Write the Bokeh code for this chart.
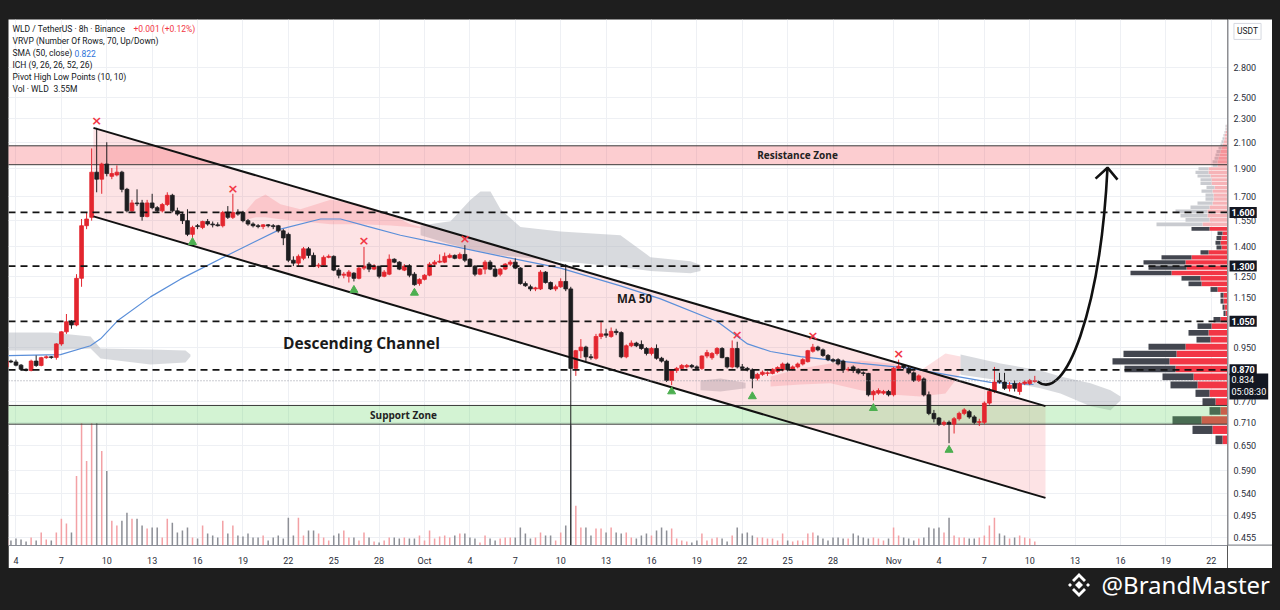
import numpy as np
import pandas as pd
from bokeh.plotting import figure
from bokeh.models import Range1d, FixedTicker, Span, Label, Div, LinearScale
from bokeh.layouts import column, row
from bokeh.core.properties import value
from bokeh.embed import file_html
from bokeh.resources import INLINE

# ---------------------------------------------------------------- data
ORIGIN = pd.Timestamp("2025-09-01")          # day 0 of the x axis
FIRST_CANDLE = "2025-09-03 08:00"            # 8h candles, Binance WLD/USDT

opens = [
    .880, .900, .897, .886, .872, .868, .900, .885, .912, .915,
    .913, .962, 1.008, 1.048, 1.035, 1.24, 1.52, 1.57, 1.87, 1.82,
    1.93, 1.84, 1.85, 1.87, 1.75, 1.61, 1.66, 1.66, 1.575, 1.66,
    1.63, 1.61, 1.65, 1.71, 1.61, 1.59, 1.55, 1.47, 1.52, 1.51,
    1.545, 1.53, 1.525, 1.52, 1.60, 1.57, 1.60, 1.60, 1.55, 1.53,
    1.52, 1.515, 1.525, 1.52, 1.52, 1.49, 1.47, 1.33, 1.315, 1.34,
    1.39, 1.355, 1.30, 1.305, 1.345, 1.35, 1.28, 1.255, 1.25, 1.265,
    1.24, 1.29, 1.31, 1.285, 1.30, 1.25, 1.26, 1.335, 1.32, 1.28,
    1.30, 1.26, 1.215, 1.235, 1.255, 1.31, 1.32, 1.32, 1.345, 1.355,
    1.34, 1.36, 1.335, 1.30, 1.26, 1.285, 1.32, 1.285, 1.26, 1.285,
    1.31, 1.32, 1.29, 1.215, 1.20, 1.19, 1.19, 1.27, 1.22, 1.19,
    1.20, 1.225, 1.19, .875, .937, .95, .915, .91, .99, 1.00,
    .99, 1.01, 1.005, .915, .955, .965, .96, .945, .927, .945,
    .91, .90, .835, .868, .875, .88, .885, .88, .875, .918,
    .912, .927, .945, .912, .88, .945, .88, .875, .87, .842,
    .855, .858, .858, .865, .87, .89, .872, .88, .89, .898,
    .935, .95, .94, .92, .905, .905, .90, .87, .88, .872,
    .86, .858, .79, .795, .795, .80, .79, .875, .885, .875,
    .86, .835, .84, .79, .735, .722, .705, .71, .705, .72,
    .735, .74, .725, .71, .71, .765, .80, .835, .83, .81,
    .825, .80, .825, .825, .832]
highs = [
    .905, .905, .905, .890, .875, .905, .920, .915, .920, .918,
    .965, 1.01, 1.08, 1.055, 1.26, 1.56, 1.60, 2.05, 2.22, 1.94,
    2.10, 1.90, 1.92, 1.88, 1.76, 1.68, 1.75, 1.68, 1.68, 1.72,
    1.64, 1.66, 1.73, 1.72, 1.63, 1.60, 1.62, 1.52, 1.53, 1.55,
    1.56, 1.545, 1.54, 1.61, 1.64, 1.72, 1.62, 1.61, 1.56, 1.54,
    1.53, 1.53, 1.53, 1.53, 1.525, 1.50, 1.48, 1.35, 1.36, 1.40,
    1.40, 1.37, 1.315, 1.355, 1.36, 1.355, 1.29, 1.27, 1.28, 1.27,
    1.30, 1.40, 1.32, 1.31, 1.30, 1.28, 1.36, 1.34, 1.325, 1.31,
    1.31, 1.27, 1.24, 1.26, 1.32, 1.33, 1.36, 1.37, 1.365, 1.36,
    1.37, 1.41, 1.34, 1.305, 1.29, 1.33, 1.33, 1.30, 1.29, 1.315,
    1.33, 1.34, 1.295, 1.225, 1.21, 1.20, 1.28, 1.275, 1.225, 1.21,
    1.24, 1.31, 1.20, .94, .98, .955, .925, 1.00, 1.05, 1.02,
    1.025, 1.02, 1.01, .96, .975, .97, .975, .95, .95, .96,
    .915, .905, .87, .88, .89, .89, .89, .885, .92, .94,
    .932, .95, .95, .915, .975, .97, .89, .88, .875, .86,
    .868, .865, .875, .882, .895, .895, .885, .895, .91, .94,
    .962, .955, .945, .925, .91, .91, .905, .88, .885, .875,
    .865, .86, .805, .81, .805, .805, .88, .905, .89, .88,
    .865, .855, .845, .80, .745, .725, .715, .715, .725, .74,
    .75, .745, .73, .72, .77, .81, .88, .86, .86, .83,
    .835, .83, .835, .84, .85]
lows = [
    .875, .893, .882, .868, .865, .865, .880, .882, .908, .908,
    .905, .955, 1.00, 1.02, 1.03, 1.20, 1.50, 1.55, 1.73, 1.72,
    1.84, 1.82, 1.84, 1.73, 1.60, 1.60, 1.64, 1.55, 1.57, 1.62,
    1.60, 1.60, 1.64, 1.60, 1.58, 1.53, 1.46, 1.45, 1.50, 1.50,
    1.52, 1.51, 1.515, 1.51, 1.56, 1.56, 1.58, 1.54, 1.52, 1.51,
    1.505, 1.50, 1.51, 1.50, 1.48, 1.41, 1.32, 1.30, 1.30, 1.33,
    1.34, 1.295, 1.29, 1.30, 1.34, 1.275, 1.24, 1.24, 1.22, 1.225,
    1.235, 1.28, 1.27, 1.28, 1.24, 1.245, 1.255, 1.315, 1.28, 1.275,
    1.245, 1.205, 1.205, 1.23, 1.25, 1.30, 1.315, 1.315, 1.34, 1.335,
    1.335, 1.32, 1.295, 1.25, 1.255, 1.26, 1.28, 1.245, 1.25, 1.28,
    1.30, 1.285, 1.21, 1.20, 1.18, 1.18, 1.185, 1.215, 1.185, 1.18,
    1.195, 1.18, .40, .85, .91, .90, .905, .905, .98, .985,
    .985, .995, .91, .91, .95, .95, .94, .92, .92, .905,
    .895, .83, .82, .86, .87, .875, .875, .87, .87, .91,
    .905, .92, .91, .875, .875, .875, .87, .865, .81, .835,
    .85, .85, .855, .86, .865, .865, .868, .875, .885, .895,
    .93, .935, .915, .90, .895, .885, .86, .865, .86, .855,
    .85, .785, .773, .79, .79, .785, .785, .87, .872, .855,
    .83, .83, .785, .73, .71, .70, .70, .655, .68, .715,
    .73, .72, .705, .70, .705, .76, .795, .825, .805, .80,
    .80, .79, .82, .82, .828]
closes = [
    .900, .897, .886, .872, .868, .900, .885, .912, .915, .913,
    .962, 1.008, 1.048, 1.035, 1.24, 1.52, 1.56, 1.87, 1.82, 1.93,
    1.86, 1.86, 1.87, 1.75, 1.61, 1.66, 1.655, 1.575, 1.66, 1.63,
    1.61, 1.65, 1.71, 1.61, 1.59, 1.55, 1.47, 1.51, 1.515, 1.545,
    1.53, 1.525, 1.52, 1.60, 1.57, 1.60, 1.59, 1.55, 1.53, 1.52,
    1.515, 1.525, 1.52, 1.515, 1.49, 1.45, 1.33, 1.315, 1.35, 1.39,
    1.355, 1.30, 1.305, 1.345, 1.35, 1.28, 1.255, 1.26, 1.27, 1.24,
    1.29, 1.30, 1.285, 1.30, 1.25, 1.27, 1.335, 1.32, 1.285, 1.30,
    1.255, 1.21, 1.235, 1.255, 1.31, 1.32, 1.325, 1.35, 1.355, 1.34,
    1.36, 1.33, 1.30, 1.26, 1.285, 1.32, 1.285, 1.25, 1.285, 1.31,
    1.32, 1.29, 1.215, 1.205, 1.19, 1.195, 1.27, 1.22, 1.19, 1.20,
    1.225, 1.19, .875, .937, .95, .915, .912, .99, 1.00, .995,
    1.01, 1.005, .915, .955, .965, .955, .945, .927, .945, .91,
    .90, .835, .868, .875, .885, .885, .88, .875, .918, .93,
    .927, .945, .912, .88, .945, .88, .875, .87, .842, .855,
    .862, .86, .872, .878, .89, .87, .88, .89, .905, .937,
    .95, .94, .92, .905, .90, .89, .87, .872, .868, .86,
    .858, .79, .80, .803, .80, .79, .875, .882, .878, .86,
    .835, .85, .79, .735, .72, .705, .71, .705, .72, .735,
    .745, .725, .71, .712, .765, .80, .83, .83, .81, .82,
    .81, .825, .83, .835, .834]
volumes = [  # volume per candle (M)
    6, 5, 7, 6, 4, 8, 5, 13, 6, 5,
    13, 27, 22, 13, 70, 123, 85, 123, 123, 95,
    75, 25, 20, 25, 33, 27, 27, 20, 17, 18,
    18, 8, 27, 23, 13, 15, 18, 8, 7, 20,
    12, 10, 8, 25, 12, 20, 10, 9, 12, 8,
    8, 10, 5, 8, 10, 7, 28, 10, 28, 10,
    15, 15, 12, 8, 5, 10, 12, 15, 8, 8,
    5, 13, 8, 4, 3, 5, 8, 8, 7, 8,
    7, 7, 10, 5, 15, 7, 9, 10, 8, 10,
    12, 12, 8, 7, 3, 10, 7, 5, 7, 8,
    8, 8, 18, 12, 7, 8, 13, 10, 10, 5,
    13, 20, 121, 40, 18, 18, 10, 17, 17, 13,
    18, 13, 12, 13, 8, 7, 10, 12, 10, 15,
    18, 15, 17, 7, 5, 4, 3, 5, 12, 5,
    7, 8, 7, 4, 10, 18, 12, 13, 10, 8,
    8, 7, 7, 5, 12, 5, 4, 5, 5, 12,
    13, 10, 7, 5, 8, 8, 7, 7, 12, 10,
    8, 7, 8, 7, 5, 7, 18, 10, 8, 7,
    5, 7, 8, 18, 17, 18, 13, 28, 10, 8,
    8, 7, 7, 8, 10, 20, 28, 12, 10, 7,
    8, 10, 8, 7, 4]

# SMA(50) (day, value)
ma_days = [2.50, 5.94, 7.92, 8.59, 9.71, 11.89, 13.87, 17.38, 20.48, 23.13, 24.45, 26.23, 28.41,
           30.59, 35.02, 38.99, 42.95, 45.60, 49.37, 51.35, 52.87, 54.85, 58.82, 62.12, 67.41, 70.25]
ma_vals = [0.919, 0.923, 0.955, 0.981, 1.052, 1.154, 1.236, 1.372, 1.50, 1.56, 1.56, 1.516, 1.465,
           1.426, 1.351, 1.29, 1.204, 1.145, 1.048, 0.962, 0.934, 0.916, 0.892, 0.875, 0.829, 0.822]

# Ichimoku cloud pieces (day, upper, lower)
cloud1_days = [2.50, 5.28, 7.93, 8.59, 11.89, 14.20, 14.53]
cloud1_top = [1.005, 1.005, 0.990, 0.945, 0.941, 0.938, 0.923]
cloud1_bot = [0.938, 0.938, 0.945, 0.909, 0.888, 0.895, 0.916]
cloud2_days = [17.84, 18.83, 19.49, 20.48, 21.80, 23.79, 25.77, 27.75, 29.07, 29.74]
cloud2_top = [1.570, 1.680, 1.716, 1.651, 1.620, 1.680, 1.651, 1.589, 1.529, 1.512]
cloud2_bot = [1.546, 1.570, 1.570, 1.558, 1.546, 1.529, 1.529, 1.522, 1.512, 1.505]
cloud3_days = [29.74, 31.72, 33.04, 33.70, 34.36, 35.02, 36.34, 38.99, 42.95, 44.93, 47.58, 48.24]
cloud3_top = [1.522, 1.546, 1.680, 1.735, 1.735, 1.620, 1.512, 1.487, 1.465, 1.346, 1.325, 1.305]
cloud3_bot = [1.465, 1.415, 1.388, 1.377, 1.367, 1.356, 1.346, 1.325, 1.295, 1.275, 1.265, 1.275]
cloud4_days = [48.24, 49.56, 51.22]
cloud4_top = [0.835, 0.841, 0.828]
cloud4_bot = [0.804, 0.800, 0.810]
cloud5_days = [52.87, 54.85, 56.83, 58.82, 60.80, 62.78, 64.43, 65.43]
cloud5_top = [0.848, 0.875, 0.892, 0.902, 0.892, 0.868, 0.927, 0.916]
cloud5_bot = [0.816, 0.822, 0.826, 0.804, 0.791, 0.785, 0.794, 0.858]
cloud6_days = [65.43, 68.07, 70.71, 72.03, 74.02, 75.34, 76.00]
cloud6_top = [0.923, 0.892, 0.868, 0.848, 0.826, 0.804, 0.785]
cloud6_bot = [0.854, 0.835, 0.810, 0.794, 0.756, 0.744, 0.773]

# Visible range volume profile: 70 rows, price bins of equal height
vp_start, vp_step = 0.6505, 0.0262
vp_up = [5, 15, 26, 7, 12, 18, 30, 34, 52, 58, 51, 42, 17, 19, 16, 7, 2, 3, 4, 4,
         10, 26, 27, 56, 41, 42, 36, 19, 6, 7, 6, 5, 18, 25, 18, 20, 20, 18, 15, 14,
         14, 15, 13, 16, 16, 17, 19, 19, 10, 10, 9, 8, 7, 6, 5, 4, 3, 3, 2, 1, 1]
vp_down = [7, 20, 29, 11, 13, 14, 27, 31, 51, 57, 53, 37, 14, 20, 14, 7, 2, 2, 3, 3,
           7, 13, 19, 41, 38, 42, 30, 8, 5, 5, 5, 5, 18, 46, 24, 27, 32, 19, 15, 8,
           8, 11, 8, 11, 11, 13, 13, 10, 5, 5, 4, 4, 4, 3, 2, 2, 2, 1, 1, 1, 1]
vp_value_area_last_row = 32

# Drawings
channel_days = [8.12, 71.04]
channel_upper = [2.22, 0.756]
channel_lower = [1.576, 0.530]
resistance_zone = (1.925, 2.071)
support_zone = (0.705, 0.758)
key_levels = [1.600, 1.300, 1.050, 0.870]
last_price = 0.834
countdown = "05:08:30"
pivot_high_idx = [18, 45, 71, 91, 145, 160, 177]
pivot_high_mark = [2.28, 1.755, 1.437, 1.448, 0.997, 0.993, 0.927]
pivot_low_idx = [37, 69, 81, 132, 148, 172, 187]
pivot_low_mark = [1.426, 1.185, 1.172, 0.800, 0.785, 0.750, 0.638]
arrow_start = (70.52, 0.832)
arrow_c1 = (72.37, 0.764)
arrow_c2 = (74.68, 1.102)
arrow_end = (75.14, 1.903)
arrow_wings = [(74.35, 1.824), (75.80, 1.817)]

# Axes
y_ticks = [2.8, 2.5, 2.3, 2.1, 1.9, 1.7, 1.55, 1.4, 1.25, 1.15, 0.95, 0.77, 0.71, 0.65, 0.59, 0.54, 0.495, 0.455]
x_tick_dates = ["2025-09-04", "2025-09-07", "2025-09-10", "2025-09-13", "2025-09-16", "2025-09-19",
                "2025-09-22", "2025-09-25", "2025-09-28", "2025-10-01", "2025-10-04", "2025-10-07",
                "2025-10-10", "2025-10-13", "2025-10-16", "2025-10-19", "2025-10-22", "2025-10-25",
                "2025-10-28", "2025-11-01", "2025-11-04", "2025-11-07", "2025-11-10", "2025-11-13",
                "2025-11-16", "2025-11-19", "2025-11-22"]
x_tick_labels = ["4", "7", "10", "13", "16", "19", "22", "25", "28", "Oct", "4", "7", "10", "13",
                 "16", "19", "22", "25", "28", "Nov", "4", "7", "10", "13", "16", "19", "22"]

# ---------------------------------------------------------------- layout / style
DARK = "#1e1e1e"
UP = "#e3262f"
DOWN = "#1d1d1f"
TXT = "#131722"
FONT = "Roboto"
X_START, X_END = 2.505, 83.07
Y_LOW, Y_HIGH = 0.4408, 3.377
FRAME_W, FRAME_H = 1219, 529
SCALE_W = 45
PAGE_X0, PAGE_Y0 = 8, 19


def fx(px):  # page pixel -> day (for annotation placement only)
    return X_START + (px - PAGE_X0) * (X_END - X_START) / FRAME_W


def fy(py):  # page pixel -> price (log axis)
    return Y_HIGH * (Y_LOW / Y_HIGH) ** ((py - PAGE_Y0) / FRAME_H)


n = min(len(opens), len(highs), len(lows), len(closes), len(volumes))
times = pd.date_range(FIRST_CANDLE, periods=n, freq="8h")
days = ((times - ORIGIN) / pd.Timedelta("1D")).to_numpy()
o = np.array(opens[:n]); h = np.array(highs[:n]); l = np.array(lows[:n]); c = np.array(closes[:n])
v = np.array(volumes[:n])
up = c >= o
ccol = np.where(up, UP, DOWN)
vcol = np.where(up, "#f3a1a5", "#8d8f96")

yr = Range1d(Y_LOW, Y_HIGH)
p = figure(width=FRAME_W, height=FRAME_H + 20, x_range=Range1d(X_START, X_END), y_range=yr,
           y_axis_type="log", y_axis_location=None, output_backend="svg", toolbar_location=None,
           min_border_left=0, min_border_right=0, min_border_top=0, min_border_bottom=20)
p.margin = 0
p.background_fill_color = "white"
p.border_fill_color = "white"
p.outline_line_color = None
p.extra_y_ranges = {"vol": Range1d(0, FRAME_H)}
p.extra_y_scales = {"vol": LinearScale()}
p.extra_x_ranges = {"vp": Range1d(FRAME_W, 0)}
p.extra_x_scales = {"vp": LinearScale()}

# volume
p.vbar(x=days, top=v, bottom=0, width=0.1, y_range_name="vol", fill_color=vcol, line_color=None)

# ichimoku clouds
gray = dict(fill_color="#a9adb6", fill_alpha=0.45)
pink = dict(fill_color="#f23645", fill_alpha=0.16)
p.varea(x=cloud1_days, y1=cloud1_bot, y2=cloud1_top, **gray)
p.varea(x=cloud2_days, y1=cloud2_bot, y2=cloud2_top, **pink)
p.varea(x=cloud3_days, y1=cloud3_bot, y2=cloud3_top, **gray)
p.varea(x=cloud4_days, y1=cloud4_bot, y2=cloud4_top, **gray)
p.varea(x=cloud5_days, y1=cloud5_bot, y2=cloud5_top, **pink)
p.varea(x=cloud6_days, y1=cloud6_bot, y2=cloud6_top, **gray)

# channel fill
p.patch(x=[channel_days[0], channel_days[1], channel_days[1], channel_days[0]],
        y=[channel_upper[0], channel_upper[1], channel_lower[1], channel_lower[0]],
        fill_color="#f23645", fill_alpha=0.14, line_color=None)

# volume profile
rows = np.arange(min(len(vp_up), len(vp_down)))
vu = np.array(vp_up[:len(rows)]); vd = np.array(vp_down[:len(rows)])
rb = vp_start + rows * vp_step + vp_step * 0.08
rt = vp_start + (rows + 1) * vp_step - vp_step * 0.08
in_va = rows <= vp_value_area_last_row
p.quad(left=0, right=vu, bottom=rb, top=rt, x_range_name="vp",
       fill_color=np.where(in_va, "#f23645", "#f6b3b7"), line_color=None)
p.quad(left=vu, right=vu + vd, bottom=rb, top=rt, x_range_name="vp",
       fill_color=np.where(in_va, "#43464f", "#c9cbd0"), line_color=None)

# zones
p.quad(left=X_START - 5, right=X_END + 5, bottom=resistance_zone[0], top=resistance_zone[1],
       fill_color="#f23645", fill_alpha=0.25, line_color="#3a3a3a", line_width=1)
p.quad(left=X_START - 5, right=X_END + 5, bottom=support_zone[0], top=support_zone[1],
       fill_color="#5bd35b", fill_alpha=0.27, line_color="#3a3a3a", line_width=1)

# SMA 50
p.line(ma_days, ma_vals, line_color="#5b8fd9", line_width=1.2)

# candles
p.segment(x0=days, y0=l, x1=days, y1=h, line_color=ccol, line_width=1)
p.vbar(x=days, width=0.25, top=np.maximum(o, c), bottom=np.minimum(o, c),
       fill_color=ccol, line_color=ccol, line_width=0.8)

# channel lines
p.line(channel_days, channel_upper, line_color="#111111", line_width=2)
p.line(channel_days, channel_lower, line_color="#111111", line_width=2)

# pivots
p.text(x=days[pivot_high_idx], y=pivot_high_mark, text=["×"] * len(pivot_high_idx),
       text_align="center", text_baseline="middle", text_color="#f23645",
       text_font_size="13px", text_font_style="bold", text_font=value("DejaVu Sans"))
p.scatter(x=days[pivot_low_idx], y=pivot_low_mark, marker="triangle", size=8,
          fill_color="#4caf50", line_color="#4caf50")

# key levels
for lv in key_levels:
    p.add_layout(Span(location=lv, dimension="width", line_color="#131313",
                      line_width=1.7, line_dash="7 5"))
p.add_layout(Span(location=last_price, dimension="width", line_color="#9598a1",
                  line_width=1, line_dash="1 2"))

# arrow
p.bezier(x0=[arrow_start[0]], y0=[arrow_start[1]], x1=[arrow_end[0]], y1=[arrow_end[1]],
         cx0=[arrow_c1[0]], cy0=[arrow_c1[1]], cx1=[arrow_c2[0]], cy1=[arrow_c2[1]],
         line_color="#111111", line_width=2.6)
p.line([arrow_wings[0][0], arrow_end[0], arrow_wings[1][0]],
       [arrow_wings[0][1], arrow_end[1], arrow_wings[1][1]], line_color="#111111", line_width=2.6)

# text annotations
p.add_layout(Label(x=fx(361), y=fy(344), text="Descending Channel", text_align="center",
                   text_baseline="middle", text_font="Open Sans", text_font_size="15.5px",
                   text_font_style="bold", text_color="#1a1a1a"))
p.add_layout(Label(x=fx(634), y=fy(300), text="MA 50", text_align="center", text_baseline="middle",
                   text_font="Open Sans", text_font_size="11.5px", text_font_style="bold",
                   text_color="#1a1a1a"))
p.add_layout(Label(x=fx(797), y=np.sqrt(resistance_zone[0] * resistance_zone[1]), text="Resistance Zone",
                   text_align="center", text_baseline="middle", text_font="Open Sans",
                   text_font_size="10px", text_font_style="bold", text_color="#222222"))
p.add_layout(Label(x=fx(403), y=np.sqrt(support_zone[0] * support_zone[1]), text="Support Zone",
                   text_align="center", text_baseline="middle", text_font="Open Sans",
                   text_font_size="10px", text_font_style="bold", text_color="#222222"))

# legend (top left)
LEG_SIZE = "8.5px"
legend_lines = ["WLD / TetherUS · 8h · Binance",
                "VRVP (Number Of Rows, 70, Up/Down)", "SMA (50, close)", "ICH (9, 26, 26, 52, 26)",
                "Pivot High Low Points (10, 10)", "Vol · WLD"]
for k, t in enumerate(legend_lines):
    p.add_layout(Label(x=fx(12), y=fy(29 + 12 * k), text=t, text_baseline="middle", text_font=FONT,
                       text_font_size=LEG_SIZE, text_color=TXT))
p.add_layout(Label(x=fx(133), y=fy(29), text="+0.001 (+0.12%)", text_baseline="middle", text_font=FONT,
                   text_font_size=LEG_SIZE, text_color="#f23645"))
p.add_layout(Label(x=fx(74), y=fy(53), text="0.822", text_baseline="middle", text_font=FONT,
                   text_font_size=LEG_SIZE, text_color="#2f73d9"))
p.add_layout(Label(x=fx(53), y=fy(89), text="3.55M", text_baseline="middle", text_font=FONT,
                   text_font_size=LEG_SIZE, text_color=TXT))

# x axis
tick_days = [int((pd.Timestamp(d) - ORIGIN) / pd.Timedelta("1D")) for d in x_tick_dates]
p.xaxis.ticker = FixedTicker(ticks=tick_days)
p.xaxis.major_label_overrides = {d: s for d, s in zip(tick_days, x_tick_labels)}
p.xaxis.major_tick_line_color = None
p.xaxis.minor_tick_line_color = None
p.xaxis.axis_line_color = "#8a8d96"
p.xaxis.major_label_text_font = FONT
p.xaxis.major_label_text_font_size = "9px"
p.xaxis.major_label_text_color = "#2a2e39"
p.xaxis.major_label_standoff = 4
p.xgrid.grid_line_color = "#eef0f4"
p.ygrid.ticker = FixedTicker(ticks=y_ticks)
p.ygrid.grid_line_color = "#eef0f4"

# ---------------------------------------------------------------- price scale (right)
ps = figure(width=SCALE_W, height=FRAME_H + 20, x_range=Range1d(0, SCALE_W), y_range=yr,
            y_axis_type="log", x_axis_location=None, y_axis_location=None, output_backend="svg",
            toolbar_location=None, min_border_left=0, min_border_right=0, min_border_top=0,
            min_border_bottom=20)
ps.margin = 0
ps.grid.visible = False
ps.outline_line_color = None
ps.background_fill_color = "white"
ps.border_fill_color = "white"
ps.segment(x0=[0.5], y0=[Y_LOW], x1=[0.5], y1=[Y_HIGH], line_color="#8a8d96", line_width=1)
ps.segment(x0=[0], y0=[Y_LOW], x1=[SCALE_W], y1=[Y_LOW], line_color="#8a8d96", line_width=2)
ps.text(x=[6] * len(y_ticks), y=y_ticks, text=[f"{t:.3f}" for t in y_ticks], text_baseline="middle",
        text_align="left", text_font=value(FONT), text_font_size="9px", text_color="#2a2e39")
ps.add_layout(Label(x=20, y=fy(31), text="USDT", text_align="center", text_baseline="middle",
                    text_font=FONT, text_font_size="8.5px", text_color=TXT, border_line_color="#d6d9e0",
                    padding=3))
for lv in key_levels:
    ps.add_layout(Label(x=2, y=lv, text=f"{lv:.3f}", text_baseline="middle", text_font=FONT,
                        text_font_size="9px", text_font_style="bold", text_color="white",
                        background_fill_color="#131722", padding=2))
ps.add_layout(Label(x=2, y=fy(388), text=f"{last_price:.3f}\n{countdown}", text_baseline="middle",
                    text_font=FONT, text_font_size="9px", text_color="white",
                    background_fill_color="#131722", padding=2))

# ---------------------------------------------------------------- frame around the screenshot
top_bar = Div(text="", width=FRAME_W + SCALE_W, height=19, margin=0, styles={"background-color": DARK})
logo = ('<svg width="28" height="28" viewBox="0 0 28 28"><g fill="#ffffff">'
        '<polygon points="14,10 18,14 14,18 10,14"/>'
        '<polygon points="5,12 7,14 5,16 3,14"/><polygon points="23,12 25,14 23,16 21,14"/>'
        '<polygon points="14,2 21,9 19,11 14,6 9,11 7,9"/>'
        '<polygon points="14,26 21,19 19,17 14,22 9,17 7,19"/></g></svg>')
bottom_bar = Div(text=('<div style="display:flex;justify-content:flex-end;align-items:center;'
                       'height:34px;width:1262px;color:#ffffff;font-family:\'Noto Sans\';font-size:24px;">'
                       + logo + '<span style="margin-left:8px">@BrandMaster</span></div>'),
                 width=FRAME_W + SCALE_W, height=34, margin=0, styles={"background-color": DARK})
chart = row(p, ps, spacing=0, margin=0)
children = [top_bar, chart, bottom_bar]
try:
    from bokeh.models import GlobalInlineStyleSheet
    layout = column(children, spacing=0, margin=(0, 0, 0, 8),
                    stylesheets=[GlobalInlineStyleSheet(css="body{background-color:#1e1e1e;}")])
except Exception:
    layout = column(children, spacing=0, margin=(0, 0, 0, 8))

open("out.html", "w").write(file_html(layout, INLINE))
